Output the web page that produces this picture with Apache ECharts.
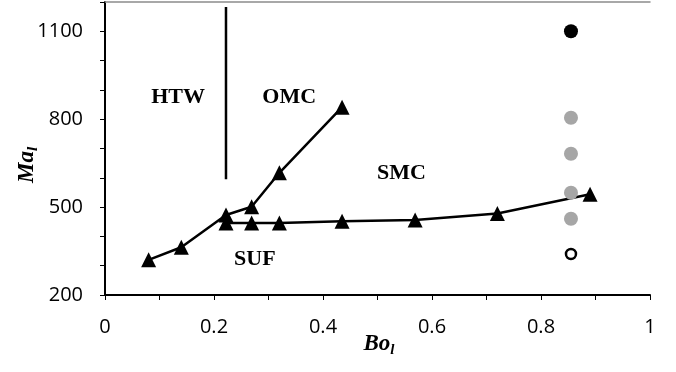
<!DOCTYPE html>
<html><head><meta charset="utf-8">
<script src="https://cdn.jsdelivr.net/npm/echarts@6/dist/echarts.min.js"></script>
<style>html,body{margin:0;padding:0;background:#fff}#c{width:676px;height:372px}</style>
</head><body><div id="c"></div>
<script>
// transition line 1 (SUF -> OMC boundary)
const line1X = [0.08, 0.14, 0.222, 0.269, 0.32, 0.435];
const line1Y = [320, 363, 473, 501, 617, 841];
// transition line 2 (SUF/SMC boundary)
const line2X = [0.222, 0.269, 0.32, 0.435, 0.569, 0.72, 0.89];
const line2Y = [446, 446, 446, 452, 456, 478, 544];
// vertical HTW/OMC boundary
const vlineX = [0.222, 0.222];
const vlineY = [595, 1183];
// test points at Bo = 0.855
const blackX = [0.855], blackY = [1100];
const grayX = [0.855, 0.855, 0.855, 0.855], grayY = [805, 682, 549, 460];
const openX = [0.855], openY = [340];
// regime labels
const regNames = ['HTW', 'OMC', 'SMC', 'SUF'];
const regX = [0.134, 0.338, 0.544, 0.275];
const regY = [875, 875, 616, 323];
const xTicks = [0, 0.2, 0.4, 0.6, 0.8, 1];
const yTicks = [200, 500, 800, 1100];
const xTitle = '{b|Bo}{s|l}';
const yTitle = '{b|Ma}{s|l}';

const zip = (a, b) => a.map((v, i) => [v, b[i]]);
const sans = '"Open Sans", "Liberation Sans", sans-serif';
const serif = '"Liberation Serif", "DejaVu Serif", serif';
const titleRich = {
  b: { fontFamily: serif, fontWeight: 'bold', fontStyle: 'italic', fontSize: 23, fill: '#000', color: '#000' },
  s: { fontFamily: serif, fontWeight: 'bold', fontStyle: 'italic', fontSize: 15, fill: '#000', color: '#000', padding: [12, 0, 0, 0] }
};

const chart = echarts.init(document.getElementById('c'));
chart.setOption({
  animation: false,
  backgroundColor: '#fff',
  grid: { left: 105, right: 26, top: 2, bottom: 77, containLabel: false, outerBoundsMode: 'none' },
  graphic: [
    { type: 'text', x: 379, y: 344, style: { text: xTitle, rich: titleRich, align: 'center', verticalAlign: 'middle' } },
    { type: 'text', x: 27, y: 165, rotation: Math.PI / 2, style: { text: yTitle, rich: titleRich, align: 'center', verticalAlign: 'middle' } }
  ],
  xAxis: [{
    type: 'value', min: 0, max: 1, interval: 0.1,
    axisLine: { lineStyle: { color: '#000', width: 2 } },
    axisTick: { show: true, length: 5, lineStyle: { color: '#000', width: 1 } },
    splitLine: { show: false },
    axisLabel: { color: '#000', fontFamily: sans, fontSize: 20, margin: 22,
      formatter: v => { const r = Math.round(v * 10) / 10; return xTicks.some(t => Math.abs(t - r) < 1e-9) ? String(r) : ''; } }
  }, {
    type: 'value', position: 'top', min: 0, max: 1,
    axisLine: { show: true, lineStyle: { color: '#8c8c8c', width: 1.5 } },
    axisTick: { show: false }, axisLabel: { show: false }, splitLine: { show: false }
  }],
  yAxis: [{
    type: 'value', min: 200, max: 1200, interval: 100,
    axisLine: { show: true, lineStyle: { color: '#000', width: 2 } },
    axisTick: { show: true, length: 5, lineStyle: { color: '#000', width: 1 } },
    splitLine: { show: false },
    axisLabel: { color: '#000', fontFamily: sans, fontSize: 20, margin: 22,
      formatter: v => yTicks.includes(Math.round(v)) ? String(Math.round(v)) : '' }
  }, {
    type: 'value', position: 'right', min: 200, max: 1200,
    axisLine: { show: true, lineStyle: { color: '#000', width: 1.5 } },
    axisTick: { show: false }, axisLabel: { show: false }, splitLine: { show: false }
  }],
  series: [
    { type: 'line', data: zip(vlineX, vlineY), symbol: 'none', lineStyle: { color: '#000', width: 2.5 }, z: 2 },
    { type: 'line', data: zip(line1X, line1Y), symbol: 'triangle', symbolSize: 15,
      itemStyle: { color: '#000' }, lineStyle: { color: '#000', width: 2.5 }, z: 3 },
    { type: 'line', data: zip(line2X, line2Y), symbol: 'triangle', symbolSize: 15,
      itemStyle: { color: '#000' }, lineStyle: { color: '#000', width: 2.5 }, z: 3 },
    { type: 'scatter', data: zip(grayX, grayY), symbol: 'circle', symbolSize: 14, itemStyle: { color: '#a6a6a6', opacity: 1 }, z: 4 },
    { type: 'scatter', data: zip(blackX, blackY), symbol: 'circle', symbolSize: 14, itemStyle: { color: '#000', opacity: 1 }, z: 4 },
    { type: 'scatter', data: zip(openX, openY), symbol: 'circle', symbolSize: 10,
      itemStyle: { color: '#fff', borderColor: '#000', borderWidth: 2.5, opacity: 1 }, z: 4 },
    { type: 'scatter', symbolSize: 0, z: 5, silent: true, itemStyle: { opacity: 1 },
      data: regNames.map((n, i) => ({ value: [regX[i], regY[i]], name: n })),
      label: { show: true, position: 'inside', formatter: p => p.name, color: '#000',
        fontFamily: serif, fontWeight: 'bold', fontSize: 22 } }
  ]
});
</script></body></html>
